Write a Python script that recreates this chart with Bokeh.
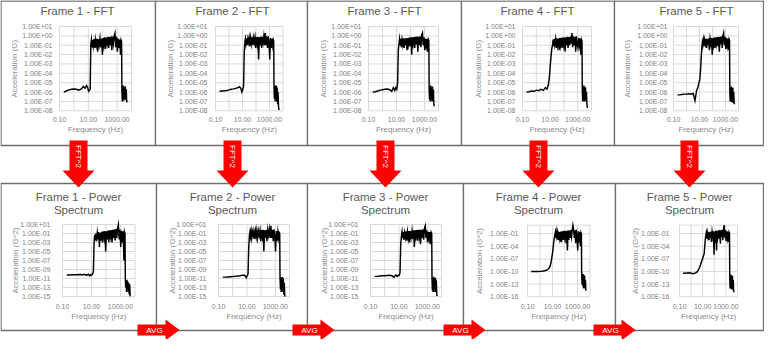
from math import pi
from bokeh.plotting import figure
from bokeh.models import Range1d, LogScale, CoordinateMapping
from bokeh.core.properties import value
from bokeh.embed import file_html
from bokeh.resources import INLINE

# ---------------- data ----------------
freq = [0.2, 0.3, 0.45, 0.7, 1.0, 1.5, 2.2, 3.3, 4.5, 6, 7.5, 9, 10.5, 12, 13.5,
        15, 16.5, 18, 20, 22, 25,
        28, 31, 35, 40, 45, 50,
        57, 65, 74, 84, 95, 108,
        122, 138, 156, 177, 200, 228,
        260, 295, 335, 380, 430, 490,
        555, 630, 715, 810, 920, 1040,
        1180, 1340, 1520, 1720, 1900, 2050,
        2150, 2300, 2450, 2600, 2800, 3000, 3200, 3450, 3700, 4000, 4300, 4650, 5000]

fft1 = [1e-6, 1.3e-6, 1.7e-6, 2e-6, 2.1e-6, 2e-6, 1.6e-6, 2.2e-6, 4e-6, 2.5e-6, 5e-6, 3e-6, 1.2e-6, 1.5e-6, 2e-6,
        0.15, 0.4, 0.06, 0.35, 0.08, 0.45,
        0.05, 0.4, 0.1, 0.5, 0.02, 0.45,
        0.1, 0.55, 0.06, 0.5, 0.01, 0.6,
        0.1, 0.7, 0.04, 0.65, 0.15, 0.8,
        0.05, 0.75, 0.1, 0.9, 0.03, 0.85,
        0.15, 1.0, 2.0, 0.06, 0.8, 0.02,
        0.5, 0.05, 0.4, 0.01, 0.35, 0.25,
        1.5e-6, 1e-7, 4e-6, 2e-7, 5e-6, 1.2e-7, 3e-6, 2e-7, 4e-6, 1.5e-7, 2e-6, 1e-7, 8e-8]
fft2 = [1.2e-6, 1.3e-6, 1.4e-6, 1.5e-6, 1.7e-6, 2e-6, 2.2e-6, 2.5e-6, 3e-6, 3.5e-6, 2.5e-6, 1e-6, 2e-6, 4e-6, 0.02,
        0.2, 0.5, 0.15, 0.55, 0.1, 0.5,
        0.2, 0.6, 0.08, 0.6, 0.15, 0.7,
        0.1, 0.65, 0.2, 0.7, 0.05, 0.75,
        0.15, 0.8, 0.003, 0.7, 0.1, 0.85,
        0.05, 0.8, 0.2, 0.9, 0.1, 2.0,
        0.1, 0.85, 0.05, 0.9, 0.15, 0.003,
        0.6, 0.05, 0.5, 0.1, 0.4, 0.3,
        3e-6, 2e-7, 5e-6, 1e-7, 4e-6, 3e-7, 5e-6, 1e-7, 3e-6, 5e-8, 1e-6, 3e-8, 1.2e-8]
fft3 = [1e-6, 1.1e-6, 1.3e-6, 1.6e-6, 1.8e-6, 2e-6, 2.1e-6, 1.8e-6, 1.2e-6, 3e-6, 1.5e-6, 3e-6, 2e-6, 1e-5, 0.03,
        0.15, 0.45, 0.1, 0.5, 0.06, 0.4,
        0.12, 0.55, 0.05, 0.5, 0.1, 0.6,
        0.03, 0.6, 0.12, 0.65, 0.08, 0.7,
        0.01, 0.7, 0.15, 0.75, 0.05, 0.8,
        0.12, 0.85, 0.02, 0.8, 0.1, 0.9,
        0.06, 1.2, 2.0, 0.1, 0.7, 0.03,
        0.5, 0.08, 0.45, 0.02, 0.4, 0.3,
        2e-6, 1.5e-7, 4e-6, 1e-7, 5e-6, 2e-7, 3e-6, 1e-7, 4e-6, 1e-7, 2e-6, 5e-8, 3e-8]
fft4 = [1e-6, 1.1e-6, 1.3e-6, 1.2e-6, 1.6e-6, 1.4e-6, 2e-6, 1.5e-6, 3e-6, 2e-6, 6e-6, 5e-5, 1e-3, 1e-2, 0.05,
        0.1, 0.4, 0.08, 0.5, 0.12, 0.45,
        0.05, 0.55, 0.1, 0.5, 0.03, 0.6,
        0.1, 0.6, 0.05, 0.7, 0.12, 0.65,
        0.02, 0.7, 0.1, 0.8, 0.05, 0.75,
        0.1, 0.85, 0.15, 2.0, 0.06, 0.9,
        0.1, 0.8, 0.02, 0.9, 0.1, 0.05,
        0.6, 0.1, 0.5, 0.01, 0.4, 0.3,
        2e-6, 1e-7, 3e-6, 2e-7, 5e-6, 1e-7, 4e-6, 1.5e-7, 3e-6, 1e-7, 1e-6, 5e-8, 2e-8]
fft5 = [5e-7, 5e-7, 5.5e-7, 6e-7, 6e-7, 6.5e-7, 6e-7, 7e-7, 1.2e-7, 1.5e-6, 3e-6, 1e-5, 2e-5, 2e-4, 5e-3,
        0.04, 0.2, 0.1, 0.35, 0.08, 0.4,
        0.15, 0.5, 0.05, 0.45, 0.1, 0.55,
        0.03, 0.5, 0.15, 0.6, 0.01, 0.55,
        0.12, 0.7, 0.05, 0.65, 0.15, 0.75,
        0.08, 0.8, 0.02, 0.75, 0.12, 0.9,
        0.05, 1.0, 2.0, 0.1, 0.8, 0.04,
        0.6, 0.1, 0.5, 0.03, 0.45, 0.35,
        1e-6, 1e-7, 3e-6, 2e-7, 4e-6, 8e-8, 2e-6, 1.5e-7, 3e-6, 7e-8, 1e-6, 6e-8, 5e-8]

ps1 = [6e-11, 6e-11, 6.5e-11, 7e-11, 7e-11, 7.5e-11, 7e-11, 8e-11, 5e-11, 9e-11, 4e-11, 8e-11, 6e-11, 1e-10, 3e-10,
       1e-3, 0.05, 3e-3, 0.1, 2e-3, 0.15,
       5e-3, 0.2, 1e-4, 0.15, 3e-3, 0.25,
       1e-3, 0.3, 1e-2, 0.35, 1e-5, 0.3,
       5e-3, 0.45, 1e-3, 0.5, 2e-2, 0.6,
       1e-3, 0.7, 1e-2, 0.8, 3e-3, 1.0,
       1e-2, 1.5, 10.0, 5e-3, 0.8, 1e-4,
       0.4, 1e-3, 0.3, 1e-7, 0.2, 0.08,
       1e-11, 1e-13, 3e-12, 1e-14, 5e-12, 1e-13, 2e-12, 1e-14, 1e-12, 3e-15, 5e-13, 1.5e-15, 1.2e-15]
ps2 = [2e-11, 2e-11, 2.2e-11, 2.5e-11, 2.8e-11, 3e-11, 3.5e-11, 4e-11, 5e-11, 6e-11, 4e-11, 1.5e-11, 4e-11, 1e-10, 1e-4,
       0.04, 0.25, 0.02, 0.3, 0.01, 0.25,
       0.04, 0.35, 6e-3, 0.36, 0.02, 0.5,
       0.01, 0.4, 0.04, 0.5, 2e-3, 0.55,
       0.02, 0.65, 1e-5, 0.5, 0.01, 0.7,
       2e-3, 0.65, 0.04, 0.8, 0.01, 5.0,
       0.01, 0.7, 2e-3, 0.8, 0.02, 1e-5,
       0.35, 2e-3, 0.25, 0.01, 0.15, 0.1,
       1e-11, 4e-14, 2e-11, 1e-14, 1.5e-11, 1e-13, 2e-11, 1e-14, 1e-11, 2.5e-15, 1e-12, 1.2e-15, 1.2e-15]
ps3 = [3e-11, 3e-11, 3.5e-11, 4e-11, 4e-11, 4.5e-11, 5e-11, 4e-11, 2e-11, 6e-11, 3e-11, 6e-11, 5e-11, 2e-10, 5e-4,
       0.02, 0.2, 0.01, 0.25, 4e-3, 0.16,
       0.015, 0.3, 2.5e-3, 0.25, 0.01, 0.36,
       1e-3, 0.36, 0.015, 0.42, 6e-3, 0.5,
       1e-4, 0.5, 0.02, 0.55, 2.5e-3, 0.64,
       0.015, 0.7, 4e-4, 0.65, 0.01, 0.8,
       4e-3, 1.5, 5.0, 0.01, 0.5, 1e-3,
       0.25, 6e-3, 0.2, 4e-4, 0.16, 0.09,
       4e-12, 2e-14, 1.5e-11, 1e-14, 2.5e-11, 4e-14, 1e-11, 1e-14, 1.5e-11, 1e-14, 4e-12, 2.5e-15, 1.2e-15]
ps4 = [1e-10, 1e-10, 1e-10, 1e-10, 1.1e-10, 1.2e-10, 1.5e-10, 2e-10, 4e-10, 1e-9, 1e-8, 3e-7, 5e-6, 3e-4, 5e-3,
       0.03, 0.15, 0.01, 0.25, 0.02, 0.2,
       3e-3, 0.3, 0.01, 0.25, 1e-3, 0.35,
       0.01, 0.36, 3e-3, 0.5, 0.015, 0.42,
       5e-4, 0.5, 1e-5, 0.65, 3e-3, 0.55,
       0.01, 0.7, 0.02, 0.8, 10.0, 0.8,
       0.01, 0.65, 5e-4, 0.8, 0.01, 1e-5,
       0.35, 0.01, 0.25, 1e-4, 0.16, 0.09,
       1e-10, 1e-13, 1e-11, 4e-14, 2.5e-11, 1e-14, 1.5e-11, 2e-14, 1e-11, 1e-14, 1e-12, 4e-15, 3e-15]
ps5 = [4e-11, 4e-11, 4.5e-11, 5e-11, 4e-11, 3e-11, 4e-11, 8e-11, 3e-10, 2e-9, 1.5e-8, 5e-8, 2e-7, 6e-7, 2e-6,
       1e-4, 3e-3, 0.02, 0.12, 6e-3, 0.16,
       0.02, 0.25, 2.5e-3, 0.2, 0.01, 0.3,
       1e-3, 0.25, 0.02, 0.36, 1e-6, 0.3,
       0.015, 0.5, 1e-5, 0.42, 0.02, 0.56,
       6e-3, 0.64, 4e-4, 0.56, 0.015, 0.8,
       2.5e-3, 1.0, 10.0, 0.01, 0.64, 1.6e-3,
       0.36, 0.01, 0.25, 1e-3, 0.2, 0.12,
       1e-11, 1e-14, 1e-11, 4e-14, 1.6e-11, 6e-15, 4e-12, 2e-14, 1e-11, 5e-15, 1e-12, 3e-15, 1.2e-15]

x_grid = [0.1, 1, 10, 100, 1000, 10000]
x_ticks = [0.1, 10, 1000]
x_labels = ["0.10", "10.00", "1000.00"]

fft_ticks = [10, 1, 0.1, 1e-2, 1e-3, 1e-4, 1e-5, 1e-6, 1e-7, 1e-8]
fft_labels = ["1.00E+01", "1.00E+00", "1.00E-01", "1.00E-02", "1.00E-03",
              "1.00E-04", "1.00E-05", "1.00E-06", "1.00E-07", "1.00E-08"]
ps_ticks = [10, 0.1, 1e-3, 1e-5, 1e-7, 1e-9, 1e-11, 1e-13, 1e-15]
ps_labels = ["1.00E+01", "1.00E-01", "1.00E-03", "1.00E-05", "1.00E-07",
             "1.00E-09", "1.00E-11", "1.00E-13", "1.00E-15"]
ps3_ticks = [0.1, 1e-4, 1e-7, 1e-10, 1e-13, 1e-16]
ps3_labels = ["1.00E-01", "1.00E-04", "1.00E-07", "1.00E-10", "1.00E-13", "1.00E-16"]

titles_fft = ["Frame 1 - FFT", "Frame 2 - FFT", "Frame 3 - FFT", "Frame 4 - FFT", "Frame 5 - FFT"]
titles_ps = ["Frame 1 - Power", "Frame 2 - Power", "Frame 3 - Power", "Frame 4 - Power", "Frame 5 - Power"]

# ---------------- layout ----------------
FONT = value("Liberation Sans")
W, H = 764, 339
p = figure(width=W, height=H, x_range=Range1d(8, 8 + W), y_range=Range1d(8 + H, 8),
           output_backend="svg", toolbar_location=None, min_border=0,
           x_axis_location=None, y_axis_location=None)
p.xgrid.visible = False
p.ygrid.visible = False
p.outline_line_color = None
p.background_fill_color = "white"

charts = [
    # top row
    dict(box=(8.5, 163, 8.5, 153), title=[titles_fft[0]], tx=85, ty=[18], xl=67, xr=139, yt=34, yb=118.3,
         ymin=1e-8, ymax=10, ticks=fft_ticks, labels=fft_labels, grid=fft_ticks, labx=60, ytx=22,
         ytitle="Acceleration (G)", vals=fft1, dy=(9, 19)),
    dict(box=(163, 315, 8.5, 153), title=[titles_fft[1]], tx=240, ty=[18], xl=223, xr=290.5, yt=34, yb=118.3,
         ymin=1e-8, ymax=10, ticks=fft_ticks, labels=fft_labels, grid=fft_ticks, labx=215, ytx=178,
         ytitle="Acceleration (G)", vals=fft2, dy=(9, 19)),
    dict(box=(315, 469, 8.5, 153), title=[titles_fft[2]], tx=392, ty=[18], xl=376, xr=446, yt=34, yb=118.3,
         ymin=1e-8, ymax=10, ticks=fft_ticks, labels=fft_labels, grid=fft_ticks, labx=369, ytx=331,
         ytitle="Acceleration (G)", vals=fft3, dy=(9, 19)),
    dict(box=(469, 622, 8.5, 153), title=[titles_fft[3]], tx=545, ty=[18], xl=530, xr=599, yt=34, yb=118.3,
         ymin=1e-8, ymax=10, ticks=fft_ticks, labels=fft_labels, grid=fft_ticks, labx=523, ytx=486,
         ytitle="Acceleration (G)", vals=fft4, dy=(9, 19)),
    dict(box=(622, 771, 8.5, 153), title=[titles_fft[4]], tx=704, ty=[18], xl=681, xr=746, yt=34, yb=118.3,
         ymin=1e-8, ymax=10, ticks=fft_ticks, labels=fft_labels, grid=fft_ticks, labx=675, ytx=635,
         ytitle="Acceleration (G)", vals=fft5, dy=(9, 19)),
    # bottom row
    dict(box=(8.5, 164, 191, 338), title=[titles_ps[0], "Spectrum"], tx=86, ty=[204, 217], xl=70, xr=142.5,
         yt=232, yb=304, ymin=1e-15, ymax=10, ticks=ps_ticks, labels=ps_labels, grid=ps_ticks, labx=58, ytx=23,
         ytitle="Acceleration (G^2)", vals=ps1, dy=(10, 20)),
    dict(box=(164, 315, 191, 338), title=[titles_ps[1], "Spectrum"], tx=240, ty=[204, 217], xl=226, xr=297,
         yt=232, yb=304, ymin=1e-15, ymax=10, ticks=ps_ticks, labels=ps_labels, grid=ps_ticks, labx=214, ytx=180,
         ytitle="Acceleration (G^2)", vals=ps2, dy=(10, 20)),
    dict(box=(315, 471, 191, 338), title=[titles_ps[2], "Spectrum"], tx=393, ty=[204, 217], xl=378, xr=449,
         yt=232, yb=304, ymin=1e-15, ymax=10, ticks=ps_ticks, labels=ps_labels, grid=ps_ticks, labx=366, ytx=332,
         ytitle="Acceleration (G^2)", vals=ps3, dy=(10, 20)),
    dict(box=(471, 623, 191, 338), title=[titles_ps[3], "Spectrum"], tx=546, ty=[204, 217], xl=535, xr=597.5,
         yt=232.7, yb=304.3, ymin=1e-16, ymax=10, ticks=ps3_ticks, labels=ps3_labels, grid=ps3_ticks + [10],
         labx=526, ytx=487, ytitle="Acceleration (G^2)", vals=ps4, dy=(10, 20)),
    dict(box=(623, 771, 191, 338), title=[titles_ps[4], "Spectrum"], tx=697, ty=[204, 217], xl=687, xr=745,
         yt=232.6, yb=304.3, ymin=1e-16, ymax=10, ticks=ps3_ticks, labels=ps3_labels, grid=ps3_ticks + [10],
         labx=677, ytx=643, ytitle="Acceleration (G^2)", vals=ps5, dy=(10, 20)),
]

# boxes first
for c in charts:
    l, r, t, b = c["box"]
    p.quad(left=[l], right=[r], top=[t], bottom=[b], fill_color="white",
           line_color="#6e6e6e", line_width=1.3)

for c in charts:
    m = CoordinateMapping(x_source=Range1d(0.1, 1e4), y_source=Range1d(c["ymin"], c["ymax"]),
                          x_scale=LogScale(), y_scale=LogScale(),
                          x_target=Range1d(c["xl"], c["xr"]), y_target=Range1d(c["yb"], c["yt"]))
    rs = []
    g = c["grid"]
    rs.append(p.segment(x0=[0.1] * len(g), x1=[1e4] * len(g), y0=g, y1=g,
                        line_color="#d9d9d9", line_width=1))
    rs.append(p.segment(x0=x_grid, x1=x_grid, y0=[c["ymin"]] * len(x_grid), y1=[c["ymax"]] * len(x_grid),
                        line_color="#d9d9d9", line_width=1))
    n = min(len(freq), len(c["vals"]))
    rs.append(p.line(freq[:n], c["vals"][:n], line_color="black", line_width=1.45, line_join="miter"))
    rs.append(p.text(x=[0.1] * len(c["ticks"]), y=c["ticks"], text=c["labels"],
                     x_offset=c["labx"] - c["xl"], text_align="right", text_baseline="middle",
                     text_font=FONT, text_font_size="7px", text_color="#808080"))
    rs.append(p.text(x=x_ticks, y=[c["ymin"]] * len(x_ticks), text=x_labels, y_offset=c["dy"][0],
                     text_align="center", text_baseline="middle",
                     text_font=FONT, text_font_size="7px", text_color="#808080"))
    for r in rs:
        r.coordinates = m
    # texts in page coordinates
    for i, line in enumerate(c["title"]):
        p.text(x=[c["tx"]], y=[c["ty"][i]], text=[line], text_align="center", text_baseline="middle",
               text_font=FONT, text_font_size="11.5px", text_color="#595959")
    p.text(x=[(c["xl"] + c["xr"]) / 2], y=[c["yb"] + c["dy"][1]], text=["Frequency (Hz)"],
           text_align="center", text_baseline="middle", text_font=FONT, text_font_size="8px",
           text_color="#8a8a8a")
    p.text(x=[c["ytx"]], y=[(c["yt"] + c["yb"]) / 2], text=[c["ytitle"]], angle=pi / 2,
           text_align="center", text_baseline="middle", text_font=FONT, text_font_size="8px",
           text_color="#8a8a8a")

# FFT^2 arrows (down)
RED = "#ff0000"
for cx in [86, 240, 393, 546, 697]:
    xs = [cx - 9, cx + 9, cx + 9, cx + 16, cx, cx - 16, cx - 9]
    ys = [148, 148, 178, 178, 195, 178, 178]
    p.patch(xs, ys, fill_color=RED, line_color=None)
    p.text(x=[cx], y=[164], text=["FFT^2"], angle=-pi / 2, text_align="center", text_baseline="middle",
           text_font=FONT, text_font_size="8px", text_color="white")

# AVG arrows (right)
for tip in [187, 342, 493, 643]:
    xs = [tip - 42, tip - 14, tip - 14, tip, tip - 14, tip - 14, tip - 42]
    ys = [332, 332, 327, 337.5, 348, 343, 343]
    p.patch(xs, ys, fill_color=RED, line_color=None)
    p.text(x=[tip - 25], y=[337.5], text=["AVG"], text_align="center", text_baseline="middle",
           text_font=FONT, text_font_size="8px", text_color="white")

open("out.html", "w").write(file_html(p, INLINE))
